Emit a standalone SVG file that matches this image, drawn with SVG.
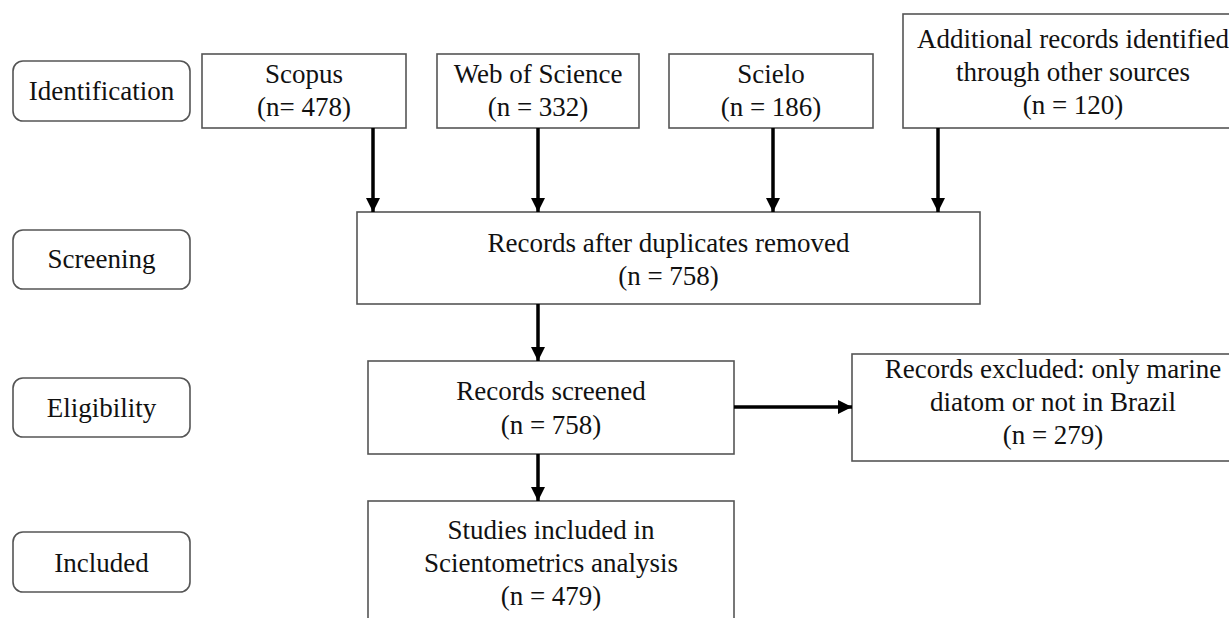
<svg xmlns="http://www.w3.org/2000/svg" width="1229" height="618" viewBox="0 0 1229 618">
  <style>
    .box { fill: #ffffff; stroke: #555555; stroke-width: 1.6; }
    .stage { fill: #ffffff; stroke: #555555; stroke-width: 1.6; }
    .txt { font-family: "Liberation Serif", "Times New Roman", serif; font-size: 27px; fill: #111111; text-anchor: middle; }
    .arrow { stroke: #000000; stroke-width: 3.5; fill: none; marker-end: url(#head); }
  </style>
  <defs>
    <marker id="head" markerUnits="userSpaceOnUse" markerWidth="16" markerHeight="16" refX="14" refY="7" orient="auto">
      <path d="M0,0 L14,7 L0,14 z" fill="#000000"/>
    </marker>
  </defs>
  <rect width="1229" height="618" fill="#ffffff"/>

  <!-- phase labels -->
  <g id="stage-identification">
    <rect class="stage" x="13" y="61" width="177" height="60" rx="10"/>
    <text class="txt" x="101.5" y="100">Identification</text>
  </g>
  <g id="stage-screening">
    <rect class="stage" x="13" y="230" width="177" height="59" rx="10"/>
    <text class="txt" x="101.5" y="268">Screening</text>
  </g>
  <g id="stage-eligibility">
    <rect class="stage" x="13" y="378" width="177" height="59" rx="10"/>
    <text class="txt" x="101.5" y="417">Eligibility</text>
  </g>
  <g id="stage-included">
    <rect class="stage" x="13" y="532" width="177" height="60" rx="10"/>
    <text class="txt" x="101.5" y="572">Included</text>
  </g>

  <!-- sources -->
  <g id="scopus">
    <rect class="box" x="202" y="54" width="204" height="74"/>
    <text class="txt" x="304" y="83">Scopus</text>
    <text class="txt" x="304" y="116">(n= 478)</text>
  </g>
  <g id="web-of-science">
    <rect class="box" x="437" y="54" width="202" height="74"/>
    <text class="txt" x="538" y="83">Web of Science</text>
    <text class="txt" x="538" y="116">(n = 332)</text>
  </g>
  <g id="scielo">
    <rect class="box" x="669" y="54" width="204" height="74"/>
    <text class="txt" x="771" y="83">Scielo</text>
    <text class="txt" x="771" y="116">(n = 186)</text>
  </g>
  <g id="other-sources">
    <rect class="box" x="903" y="14" width="340" height="114"/>
    <text class="txt" x="1073" y="48">Additional records identified</text>
    <text class="txt" x="1073" y="81">through other sources</text>
    <text class="txt" x="1073" y="114">(n = 120)</text>
  </g>

  <!-- flow -->
  <g id="deduplicated">
    <rect class="box" x="357" y="212" width="623" height="92"/>
    <text class="txt" x="668.5" y="252">Records after duplicates removed</text>
    <text class="txt" x="668.5" y="285">(n = 758)</text>
  </g>
  <g id="screened">
    <rect class="box" x="368" y="361" width="366" height="93"/>
    <text class="txt" x="551" y="400">Records screened</text>
    <text class="txt" x="551" y="434">(n = 758)</text>
  </g>
  <g id="excluded">
    <rect class="box" x="852" y="354" width="402" height="107"/>
    <text class="txt" x="1053" y="378">Records excluded: only marine</text>
    <text class="txt" x="1053" y="411">diatom or not in Brazil</text>
    <text class="txt" x="1053" y="444">(n = 279)</text>
  </g>
  <g id="included">
    <rect class="box" x="368" y="501" width="366" height="130"/>
    <text class="txt" x="551" y="539">Studies included in</text>
    <text class="txt" x="551" y="572">Scientometrics analysis</text>
    <text class="txt" x="551" y="605">(n = 479)</text>
  </g>

  <!-- connectors -->
  <g id="connectors">
    <line class="arrow" x1="373" y1="128" x2="373" y2="212"/>
    <line class="arrow" x1="538" y1="128" x2="538" y2="212"/>
    <line class="arrow" x1="773" y1="128" x2="773" y2="212"/>
    <line class="arrow" x1="938" y1="128" x2="938" y2="212"/>
    <line class="arrow" x1="538" y1="304" x2="538" y2="361"/>
    <line class="arrow" x1="734" y1="407" x2="852" y2="407"/>
    <line class="arrow" x1="538" y1="454" x2="538" y2="501"/>
  </g>
</svg>
